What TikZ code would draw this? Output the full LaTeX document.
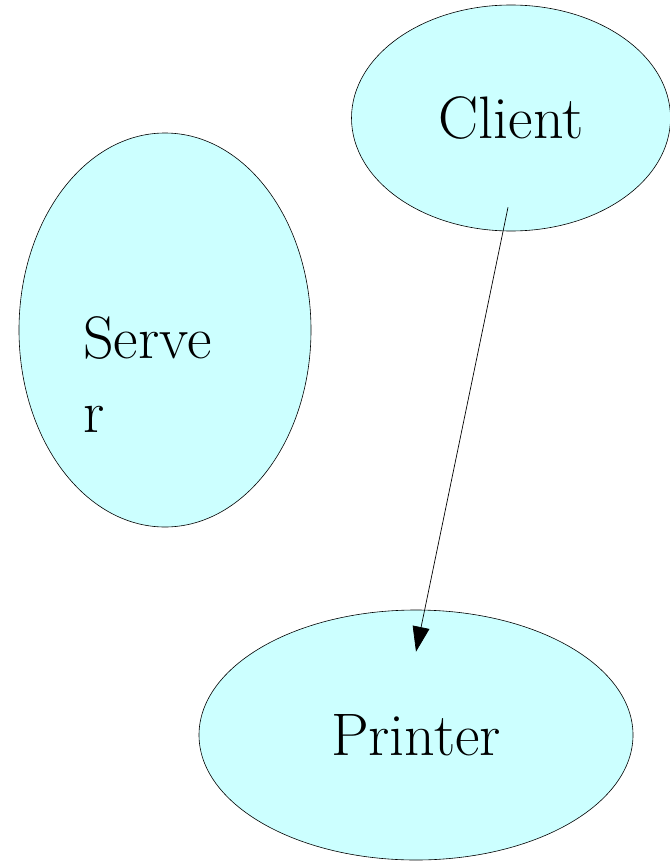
\documentclass[tikz,border=0pt]{standalone}
\usepackage{tikz}
\usetikzlibrary{arrows.meta,shapes.geometric}
\definecolor{paleCyan}{HTML}{CCFFFF}

\begin{document}
\begin{tikzpicture}[
    x=1pt,
    y=-1pt,
    every node/.style={font=\fontsize{60}{74}\selectfont},
    entity/.style={ellipse, draw=black, line width=0.6pt, fill=paleCyan, inner sep=0pt},
    caption/.style={align=left, inner sep=0pt},
    link/.style={-{Triangle[length=25pt, width=17pt]}, draw=black, line width=0.7pt}
  ]
    % Page is 669 x 861 px, one unit per pixel, y running down.
    \useasboundingbox (0,0) rectangle (669,861);

    % Ellipses.
    \node[entity, minimum width=319pt, minimum height=226pt] (client) at (511,118) {Client};
    \node[entity, minimum width=292pt, minimum height=394pt] (server) at (165,330) {};
    \node[caption, anchor=north west] (serverText) at (83,316) {Serve\\r};
    \node[entity, minimum width=434pt, minimum height=250pt] (printer) at (416,735) {Printer};

    % Connector.
    \draw[link] ([shift={(-3,-24)}]client.south) -- ([shift={(0,42)}]printer.north);
  \end{tikzpicture}
\end{document}
